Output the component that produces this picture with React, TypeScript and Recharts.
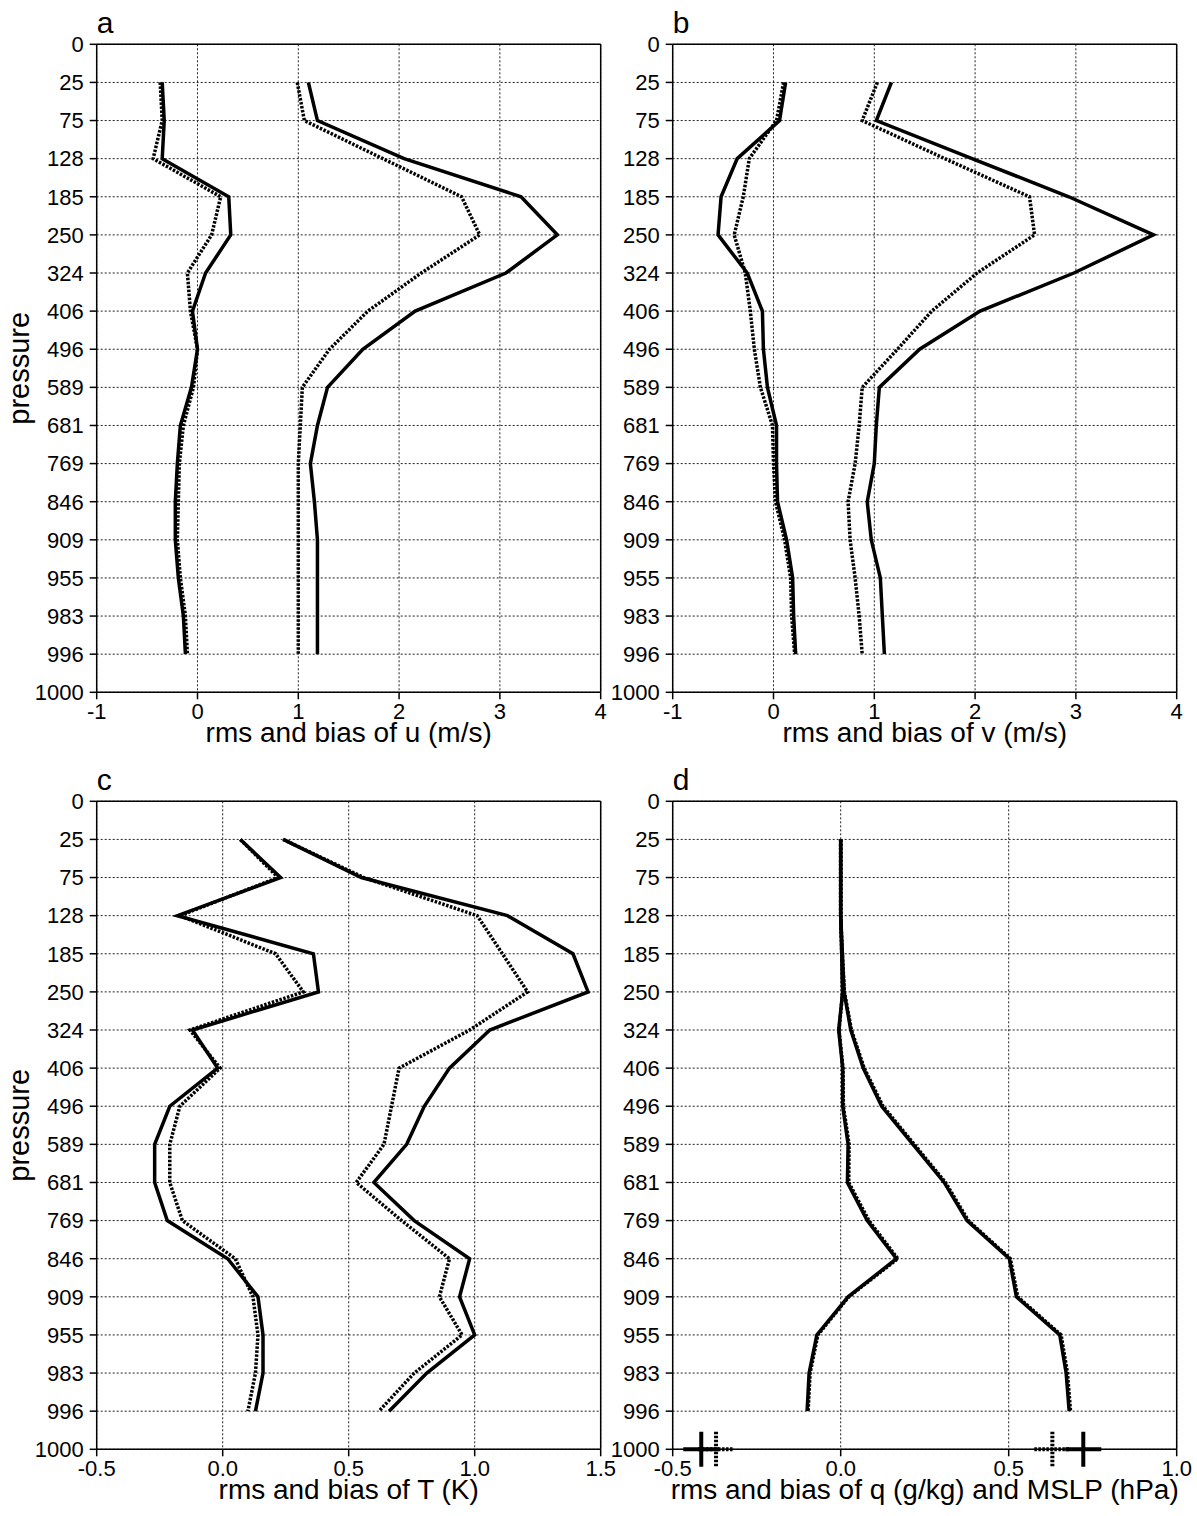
import { ScatterChart, Scatter, XAxis, YAxis, CartesianGrid, ReferenceLine } from "recharts";

// pressure levels, evenly spaced on the y axis (index 0 = top)
const pressureLevels = [0, 25, 75, 128, 185, 250, 324, 406, 496, 589, 681, 769, 846, 909, 955, 983, 996, 1000];

// values at levels 25 .. 996
const uBiasSolid = [-0.35, -0.33, -0.35, 0.31, 0.33, 0.08, -0.05, 0.0, -0.06, -0.17, -0.2, -0.22, -0.22, -0.19, -0.14, -0.12];
const uBiasDotted = [-0.37, -0.35, -0.44, 0.23, 0.14, -0.1, -0.07, 0.0, -0.04, -0.14, -0.18, -0.19, -0.2, -0.17, -0.12, -0.1];
const uRmsSolid = [1.1, 1.19, 2.05, 3.21, 3.57, 3.06, 2.16, 1.64, 1.29, 1.19, 1.12, 1.16, 1.19, 1.19, 1.19, 1.19];
const uRmsDotted = [0.99, 1.06, 1.84, 2.62, 2.8, 2.22, 1.69, 1.31, 1.04, 1.02, 1.0, 1.0, 1.0, 1.0, 1.0, 1.0];

const vBiasSolid = [0.12, 0.06, -0.36, -0.52, -0.55, -0.26, -0.11, -0.1, -0.06, 0.03, 0.03, 0.04, 0.13, 0.19, 0.2, 0.22];
const vBiasDotted = [0.1, 0.03, -0.24, -0.3, -0.39, -0.28, -0.23, -0.19, -0.13, -0.01, 0.0, 0.02, 0.11, 0.17, 0.18, 0.21];
const vRmsSolid = [1.17, 1.02, 1.97, 2.93, 3.77, 2.98, 2.05, 1.45, 1.05, 1.02, 1.0, 0.93, 0.97, 1.06, 1.08, 1.1];
const vRmsDotted = [1.03, 0.88, 1.7, 2.54, 2.59, 2.02, 1.57, 1.23, 0.88, 0.85, 0.81, 0.74, 0.76, 0.81, 0.85, 0.88];

const tBiasSolid = [0.07, 0.23, -0.18, 0.36, 0.38, -0.12, -0.02, -0.21, -0.27, -0.27, -0.22, 0.02, 0.14, 0.16, 0.16, 0.13];
const tBiasDotted = [0.07, 0.22, -0.17, 0.21, 0.32, -0.13, -0.01, -0.17, -0.21, -0.21, -0.16, 0.05, 0.12, 0.14, 0.13, 0.1];
const tRmsSolid = [0.24, 0.55, 1.13, 1.39, 1.45, 1.06, 0.9, 0.8, 0.73, 0.6, 0.76, 0.98, 0.94, 1.0, 0.81, 0.66];
const tRmsDotted = [0.24, 0.56, 1.01, 1.11, 1.21, 0.98, 0.7, 0.67, 0.64, 0.53, 0.71, 0.9, 0.86, 0.95, 0.76, 0.62];

const qBiasSolid = [0.0, 0.0, 0.0, 0.003, 0.006, -0.006, 0.006, 0.006, 0.022, 0.02, 0.079, 0.166, 0.022, -0.071, -0.094, -0.1];
const qBiasDotted = [0.0, 0.0, 0.0, 0.003, 0.006, -0.005, 0.007, 0.008, 0.025, 0.024, 0.084, 0.17, 0.024, -0.068, -0.091, -0.097];
const qRmsSolid = [0.0, 0.0, 0.0, 0.005, 0.01, 0.03, 0.067, 0.122, 0.215, 0.308, 0.376, 0.502, 0.523, 0.652, 0.671, 0.68];
const qRmsDotted = [0.0, 0.0, 0.0, 0.005, 0.011, 0.032, 0.07, 0.126, 0.219, 0.312, 0.38, 0.505, 0.527, 0.656, 0.675, 0.684];

// MSLP bias / rms, drawn at the 1000 level
const mslpSolid = [-0.415, 0.722];
const mslpDotted = [-0.371, 0.63];

const FONT = "'Liberation Sans', Arial, sans-serif";
const PLOT_W = 504;
const PLOT_H = 648;
const Y_AXIS_W = 96.7;
const PLOT_TOP = 44.3;
const RIGHT_PAD = 20;

const toProfile = (values: number[]) => values.map((v, i) => ({ x: v, y: i + 1 }));
const toMarks = (values: number[]) => values.map((v) => ({ x: v, y: pressureLevels.length - 1 }));

const NoDot = () => <g />;

const makeCross = (dashed: boolean) => (props: any) => {
    const { cx, cy } = props;
    const dash = dashed ? "2.5 1.5" : undefined;
    return (
        <g stroke="#000" strokeWidth={4} strokeDasharray={dash}>
            <line x1={cx - 18} y1={cy} x2={cx + 18} y2={cy} />
            <line x1={cx} y1={cy - 17.5} x2={cx} y2={cy + 17.5} />
        </g>
    );
};

interface PanelProps {
    letter: string;
    left: number;
    top: number;
    xDomain: [number, number];
    xTicks: number[];
    xFormat: (v: number) => string;
    title: string;
    showPressure: boolean;
    solid: number[][];
    dotted: number[][];
    marks?: boolean;
}

const Panel = ({ letter, left, top, xDomain, xTicks, xFormat, title, showPressure, solid, dotted, marks }: PanelProps) => {
    const width = Y_AXIS_W + PLOT_W + RIGHT_PAD;
    const height = PLOT_TOP + PLOT_H + 70;
    const yTicks = pressureLevels.map((_, i) => i);

    return (
        <div style={{ position: "absolute", left, top, width, height }}>
            <ScatterChart
                width={width}
                height={height}
                margin={{ top: PLOT_TOP, right: RIGHT_PAD, bottom: 0, left: 0 }}
                style={{ fontFamily: FONT }}
            >
                <CartesianGrid stroke="#222" strokeDasharray="2 2" strokeWidth={1} />
                <XAxis
                    type="number"
                    dataKey="x"
                    domain={xDomain}
                    ticks={xTicks}
                    interval={0}
                    allowDataOverflow
                    tickFormatter={xFormat}
                    tick={{ fontSize: 22, fill: "#000" }}
                    tickSize={7}
                    tickMargin={4}
                    axisLine={{ stroke: "#000", strokeWidth: 1.5 }}
                    tickLine={{ stroke: "#000", strokeWidth: 1.5 }}
                    height={70}
                    label={{ value: title, position: "insideBottom", offset: 20.5, fontSize: 28, fill: "#000" }}
                />
                <YAxis
                    type="number"
                    dataKey="y"
                    domain={[0, pressureLevels.length - 1]}
                    ticks={yTicks}
                    interval={0}
                    reversed
                    tickFormatter={(i: number) => String(pressureLevels[i])}
                    tick={{ fontSize: 22, fill: "#000" }}
                    tickSize={7}
                    tickMargin={6}
                    axisLine={{ stroke: "#000", strokeWidth: 1.5 }}
                    tickLine={{ stroke: "#000", strokeWidth: 1.5 }}
                    width={Y_AXIS_W}
                />
                <ReferenceLine y={0} stroke="#000" strokeWidth={1.5} />
                <ReferenceLine x={xDomain[1]} stroke="#000" strokeWidth={1.5} />

                {dotted.map((values, k) => (
                    <Scatter
                        key={`dot-${k}`}
                        data={toProfile(values)}
                        shape={NoDot}
                        line={{ stroke: "#000", strokeWidth: 3.5, strokeDasharray: "2.5 1.5" }}
                        isAnimationActive={false}
                    />
                ))}
                {solid.map((values, k) => (
                    <Scatter
                        key={`sol-${k}`}
                        data={toProfile(values)}
                        shape={NoDot}
                        line={{ stroke: "#000", strokeWidth: 3.5 }}
                        isAnimationActive={false}
                    />
                ))}
                {marks && (
                    <Scatter data={toMarks(mslpDotted)} shape={makeCross(true)} isAnimationActive={false} />
                )}
                {marks && (
                    <Scatter data={toMarks(mslpSolid)} shape={makeCross(false)} isAnimationActive={false} />
                )}
            </ScatterChart>
            <svg
                width={width}
                height={height}
                style={{ position: "absolute", left: 0, top: 0, pointerEvents: "none", fontFamily: FONT }}
            >
                <text x={Y_AXIS_W} y={PLOT_TOP - 11} fontSize={30} fill="#000">
                    {letter}
                </text>
                {showPressure && (
                    <text
                        transform={`translate(29, ${PLOT_TOP + PLOT_H / 2}) rotate(-90)`}
                        textAnchor="middle"
                        fontSize={29}
                        fill="#000"
                    >
                        pressure
                    </text>
                )}
            </svg>
        </div>
    );
};

const intFmt = (v: number) => String(v);
const oneDec = (v: number) => v.toFixed(1);

export default function App() {
    return (
        <div style={{ position: "absolute", left: 0, top: 0, width: 1197, height: 1516, background: "#fff" }}>
            <Panel
                letter="a"
                left={0}
                top={0}
                xDomain={[-1, 4]}
                xTicks={[-1, 0, 1, 2, 3, 4]}
                xFormat={intFmt}
                title="rms and bias of u (m/s)"
                showPressure
                solid={[uBiasSolid, uRmsSolid]}
                dotted={[uBiasDotted, uRmsDotted]}
            />
            <Panel
                letter="b"
                left={575.8}
                top={0}
                xDomain={[-1, 4]}
                xTicks={[-1, 0, 1, 2, 3, 4]}
                xFormat={intFmt}
                title="rms and bias of v (m/s)"
                showPressure={false}
                solid={[vBiasSolid, vRmsSolid]}
                dotted={[vBiasDotted, vRmsDotted]}
            />
            <Panel
                letter="c"
                left={0}
                top={756.7}
                xDomain={[-0.5, 1.5]}
                xTicks={[-0.5, 0, 0.5, 1, 1.5]}
                xFormat={oneDec}
                title="rms and bias of T (K)"
                showPressure
                solid={[tBiasSolid, tRmsSolid]}
                dotted={[tBiasDotted, tRmsDotted]}
            />
            <Panel
                letter="d"
                left={575.8}
                top={756.7}
                xDomain={[-0.5, 1]}
                xTicks={[-0.5, 0, 0.5, 1]}
                xFormat={oneDec}
                title="rms and bias of q (g/kg) and MSLP (hPa)"
                showPressure={false}
                solid={[qBiasSolid, qRmsSolid]}
                dotted={[qBiasDotted, qRmsDotted]}
                marks
            />
        </div>
    );
}
